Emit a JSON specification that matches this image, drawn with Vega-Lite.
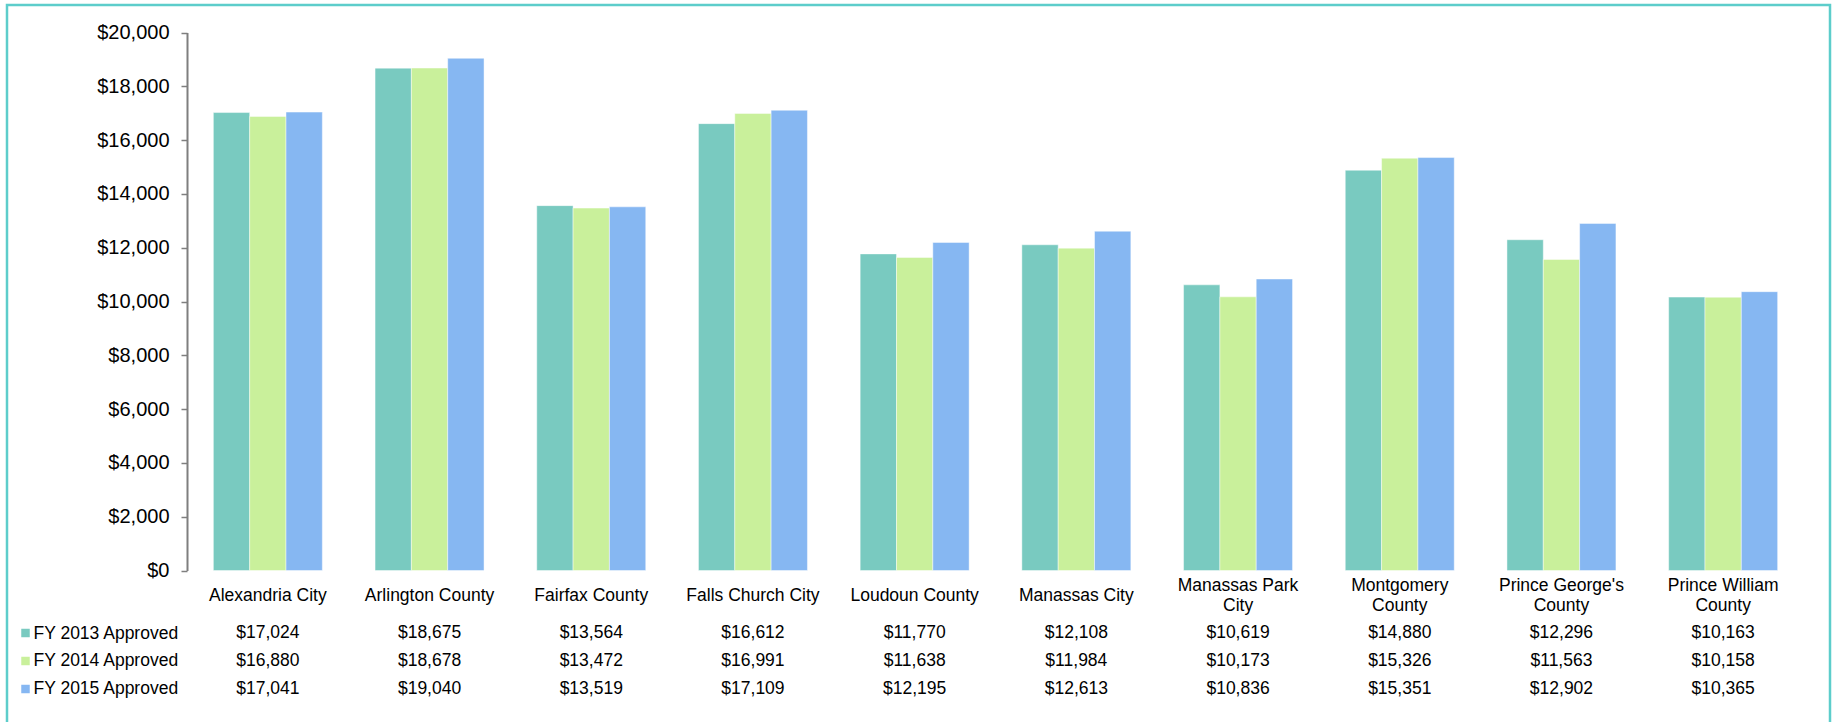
{
  "$schema": "https://vega.github.io/schema/vega-lite/v6.json",
  "width": 1823,
  "height": 722,
  "autosize": {"type": "none"},
  "padding": {"left": 7, "top": 5, "right": 5, "bottom": 0},
  "background": "#ffffff",
  "config": {
    "font": "Liberation Sans",
    "view": {"stroke": "#5DCDCB", "strokeWidth": 2.5}
  },
  "data": {
    "values": [
      {"county": "Alexandria City", "series": "FY 2013 Approved", "value": 17024},
      {"county": "Alexandria City", "series": "FY 2014 Approved", "value": 16880},
      {"county": "Alexandria City", "series": "FY 2015 Approved", "value": 17041},
      {"county": "Arlington County", "series": "FY 2013 Approved", "value": 18675},
      {"county": "Arlington County", "series": "FY 2014 Approved", "value": 18678},
      {"county": "Arlington County", "series": "FY 2015 Approved", "value": 19040},
      {"county": "Fairfax County", "series": "FY 2013 Approved", "value": 13564},
      {"county": "Fairfax County", "series": "FY 2014 Approved", "value": 13472},
      {"county": "Fairfax County", "series": "FY 2015 Approved", "value": 13519},
      {"county": "Falls Church City", "series": "FY 2013 Approved", "value": 16612},
      {"county": "Falls Church City", "series": "FY 2014 Approved", "value": 16991},
      {"county": "Falls Church City", "series": "FY 2015 Approved", "value": 17109},
      {"county": "Loudoun County", "series": "FY 2013 Approved", "value": 11770},
      {"county": "Loudoun County", "series": "FY 2014 Approved", "value": 11638},
      {"county": "Loudoun County", "series": "FY 2015 Approved", "value": 12195},
      {"county": "Manassas City", "series": "FY 2013 Approved", "value": 12108},
      {"county": "Manassas City", "series": "FY 2014 Approved", "value": 11984},
      {"county": "Manassas City", "series": "FY 2015 Approved", "value": 12613},
      {"county": "Manassas Park City", "series": "FY 2013 Approved", "value": 10619},
      {"county": "Manassas Park City", "series": "FY 2014 Approved", "value": 10173},
      {"county": "Manassas Park City", "series": "FY 2015 Approved", "value": 10836},
      {"county": "Montgomery County", "series": "FY 2013 Approved", "value": 14880},
      {"county": "Montgomery County", "series": "FY 2014 Approved", "value": 15326},
      {"county": "Montgomery County", "series": "FY 2015 Approved", "value": 15351},
      {"county": "Prince George's County", "series": "FY 2013 Approved", "value": 12296},
      {"county": "Prince George's County", "series": "FY 2014 Approved", "value": 11563},
      {"county": "Prince George's County", "series": "FY 2015 Approved", "value": 12902},
      {"county": "Prince William County", "series": "FY 2013 Approved", "value": 10163},
      {"county": "Prince William County", "series": "FY 2014 Approved", "value": 10158},
      {"county": "Prince William County", "series": "FY 2015 Approved", "value": 10365}
    ]
  },
  "layer": [
    {
      "mark": {"type": "bar", "stroke": "#ffffff", "strokeWidth": 1, "strokeOpacity": 0.45},
      "encoding": {
        "x": {
          "field": "county",
          "type": "nominal",
          "sort": null,
          "scale": {"range": [180, 1797], "paddingInner": 0.326, "paddingOuter": 0.163},
          "axis": {
            "orient": "bottom",
            "offset": -156.5,
            "title": null,
            "domain": false,
            "ticks": false,
            "tickSize": 0,
            "labelPadding": {
              "condition": {
                "test": "indexof(['Manassas Park City', 'Montgomery County', 'Prince William County'], datum.label) >= 0 || indexof(datum.label, 'Prince George') == 0",
                "value": 14.5
              },
              "value": 24.5
            },
            "labelAngle": 0,
            "labelBaseline": "middle",
            "labelFontSize": 17.5,
            "labelColor": "#000000",
            "labelLineHeight": 20,
            "labelLimit": 0,
            "labelExpr": "datum.label == 'Manassas Park City' ? ['Manassas Park', 'City'] : datum.label == 'Montgomery County' ? ['Montgomery', 'County'] : datum.label == 'Prince William County' ? ['Prince William', 'County'] : indexof(datum.label, 'Prince George') == 0 ? [\"Prince George's\", 'County'] : datum.label"
          }
        },
        "xOffset": {"field": "series", "type": "nominal", "scale": {"paddingInner": 0, "paddingOuter": 0}},
        "y": {
          "field": "value",
          "type": "quantitative",
          "scale": {"domain": [0, 20000], "range": [565.5, 27.5], "nice": false},
          "axis": {
            "orient": "left",
            "offset": -180,
            "title": null,
            "grid": false,
            "values": [0, 2000, 4000, 6000, 8000, 10000, 12000, 14000, 16000, 18000, 20000],
            "format": "$,.0f",
            "domainColor": "#7f7f7f",
            "domainWidth": 2,
            "tickColor": "#7f7f7f",
            "tickWidth": 1.5,
            "tickSize": 6,
            "labelPadding": 12,
            "labelFontSize": 20,
            "labelColor": "#000000"
          }
        },
        "color": {
          "field": "series",
          "type": "nominal",
          "scale": {
            "domain": ["FY 2013 Approved", "FY 2014 Approved", "FY 2015 Approved"],
            "range": ["#79CAC0", "#C9F09B", "#86B7F2"]
          },
          "legend": {
            "orient": "none",
            "legendX": 14,
            "legendY": 623.5,
            "title": null,
            "symbolType": "square",
            "symbolSize": 72,
            "symbolStrokeWidth": 0,
            "labelExpr": "''",
            "labelFontSize": 1,
            "rowPadding": 19,
            "padding": 0
          }
        }
      }
    },
    {
      "mark": {"type": "text", "fontSize": 17.5, "color": "#000000", "baseline": "middle", "align": "center"},
      "encoding": {
        "x": {
          "field": "county",
          "type": "nominal",
          "sort": null,
          "scale": {"range": [180, 1797], "paddingInner": 0.326, "paddingOuter": 0.163}
        },
        "y": {
          "field": "series",
          "type": "nominal",
          "scale": {"type": "point", "range": [628, 683.5], "padding": 0},
          "axis": {
            "orient": "left",
            "offset": -26,
            "title": null,
            "domain": false,
            "ticks": false,
            "tickSize": 0,
            "grid": false,
            "labelPadding": 0,
            "labelAlign": "left",
            "labelBaseline": "middle",
            "labelFontSize": 17.5,
            "labelColor": "#000000",
            "labelLimit": 0
          }
        },
        "text": {"field": "value", "type": "quantitative", "format": "$,.0f"}
      }
    }
  ],
  "resolve": {"scale": {"y": "independent"}, "axis": {"y": "independent"}}
}
